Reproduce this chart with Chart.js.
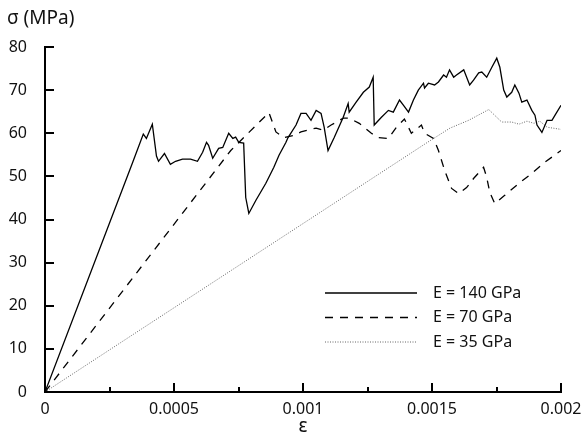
<!DOCTYPE html>
<html>
<head>
<meta charset="utf-8">
<script src="https://cdn.jsdelivr.net/npm/chart.js@4.4.1/dist/chart.umd.min.js"></script>
<style>
  body { margin: 0; background: #fff; }
  #wrap { width: 583px; height: 446px; position: relative; }
</style>
</head>
<body>
<div id="wrap"><canvas id="stressChart"></canvas></div>
<script>
// strain / stress readings for each modulus
const strain140 = [0, 0.00034, 0.000381, 0.000393, 0.000416, 0.000432, 0.00044, 0.000463, 0.000486, 0.000506,
  0.000533, 0.000564, 0.000591, 0.000611, 0.000626, 0.000634, 0.00065, 0.000673, 0.000689, 0.000712,
  0.000728, 0.000739, 0.000751, 0.00077, 0.000778, 0.00079, 0.000817, 0.000856, 0.000887, 0.000907,
  0.000934, 0.000942, 0.000973, 0.000992, 0.001012, 0.001031, 0.001051, 0.00107, 0.001082, 0.001097,
  0.001121, 0.001156, 0.001175, 0.001179, 0.001206, 0.001234, 0.001257, 0.001272, 0.001276, 0.001304,
  0.001331, 0.00135, 0.001374, 0.001389, 0.001409, 0.001428, 0.001447, 0.001467, 0.001471, 0.001486,
  0.00151, 0.001525, 0.001545, 0.001556, 0.001568, 0.001584, 0.001595, 0.001623, 0.001646, 0.001661,
  0.001681, 0.001693, 0.001712, 0.001732, 0.001751, 0.001763, 0.001778, 0.00179, 0.001809, 0.001821,
  0.001837, 0.001848, 0.001868, 0.001887, 0.001899, 0.001907, 0.001926, 0.001946, 0.001965, 0.001977, 0.002];
const stress140 = [0, 53.3, 59.8, 58.8, 62.1, 54.7, 53.5, 55.3, 52.8, 53.5,
  54.0, 54.0, 53.5, 55.6, 57.9, 57.2, 54.2, 56.5, 56.7, 60.0,
  58.8, 59.1, 57.9, 57.7, 45.1, 41.4, 44.4, 48.4, 52.1, 54.9,
  57.9, 59.0, 61.9, 64.6, 64.6, 63.0, 65.3, 64.6, 61.4, 56.0,
  59.0, 63.7, 66.9, 64.9, 67.2, 69.5, 70.7, 73.0, 61.9, 63.7,
  65.3, 64.9, 67.7, 66.5, 64.9, 67.7, 70.0, 71.6, 70.5, 71.6,
  71.2, 71.9, 73.5, 73.0, 74.7, 73.0, 73.5, 74.7, 71.2, 72.3,
  74.0, 74.2, 73.0, 75.3, 77.4, 75.3, 70.0, 68.4, 69.5, 71.2,
  69.3, 67.2, 67.7, 65.3, 64.2, 61.9, 60.2, 63.0, 63.0, 64.2, 66.5];

const strain70 = [0, 0.00072, 0.000868, 0.000883, 0.000895, 0.000926, 0.000965, 0.000992, 0.001051, 0.001078,
  0.001109, 0.001156, 0.001179, 0.001218, 0.001265, 0.001292, 0.001331, 0.001362, 0.001393, 0.00142,
  0.001459, 0.001471, 0.001506, 0.001525, 0.001549, 0.001576, 0.001603, 0.001634, 0.001661, 0.0017,
  0.001712, 0.001724, 0.001743, 0.001782, 0.001837, 0.001887, 0.001938, 0.002];
const stress70 = [0, 56.0, 64.8, 62.3, 60.3, 59.0, 59.5, 60.3, 61.2, 60.7,
  61.9, 63.5, 63.5, 62.3, 60.0, 59.0, 58.8, 61.4, 63.3, 60.0,
  61.9, 60.0, 58.8, 56.0, 51.4, 47.2, 46.0, 47.4, 49.5, 52.1,
  49.8, 46.3, 43.7, 45.6, 48.4, 50.7, 53.3, 56.0];

const strain35 = [0, 0.00148, 0.00157, 0.001642, 0.00172, 0.00177, 0.001809, 0.001837, 0.001868, 0.001895,
  0.001918, 0.001946, 0.002];
const stress35 = [0, 57.8, 61.2, 63.0, 65.5, 62.6, 62.6, 62.1, 62.8, 62.3,
  62.8, 61.4, 60.9];

const seriesLabels = ['E = 140 GPa', 'E = 70 GPa', 'E = 35 GPa'];
const xTicks = [0, 0.0005, 0.001, 0.0015, 0.002];
const yTicks = [0, 10, 20, 30, 40, 50, 60, 70, 80];

const FONT = '"Noto Sans", "Open Sans", sans-serif';

function toPoints(xs, ys) {
  return xs.map((x, i) => ({ x: x, y: ys[i] }));
}

// inward ticks, axis titles and the in-plot legend
const decorations = {
  id: 'decorations',
  afterDraw(chart) {
    const ctx = chart.ctx;
    const xs = chart.scales.x;
    const ys = chart.scales.y;
    const area = chart.chartArea;
    ctx.save();
    ctx.strokeStyle = '#000';
    ctx.lineWidth = 2;
    ctx.beginPath();
    xTicks.forEach((v, i) => {
      const px = Math.round(xs.getPixelForValue(v));
      ctx.moveTo(px, area.bottom);
      ctx.lineTo(px, area.bottom - 9);
      if (i < xTicks.length - 1) {
        const mx = Math.round(xs.getPixelForValue((v + xTicks[i + 1]) / 2));
        ctx.moveTo(mx, area.bottom);
        ctx.lineTo(mx, area.bottom - 5);
      }
    });
    yTicks.forEach(v => {
      const py = Math.round(ys.getPixelForValue(v));
      ctx.moveTo(area.left, py);
      ctx.lineTo(area.left + 9, py);
    });
    ctx.stroke();

    ctx.fillStyle = '#111';
    ctx.font = '19px ' + FONT;
    ctx.textBaseline = 'middle';
    ctx.textAlign = 'left';
    ctx.fillText('σ (MPa)', 7, 19);
    ctx.textAlign = 'center';
    ctx.fillText('ε', (area.left + area.right) / 2, 427);

    // legend
    ctx.font = '16px ' + FONT;
    ctx.textAlign = 'left';
    chart.data.datasets.forEach((ds, i) => {
      const y = 293 + i * 24.5;
      ctx.beginPath();
      ctx.strokeStyle = ds.borderColor;
      ctx.lineWidth = ds.borderWidth;
      ctx.setLineDash(ds.borderDash || []);
      ctx.moveTo(325, y);
      ctx.lineTo(417, y);
      ctx.stroke();
      ctx.setLineDash([]);
      ctx.fillStyle = '#111';
      ctx.fillText(ds.label, 433, y);
    });
    ctx.restore();
  }
};

const ctx = document.getElementById('stressChart').getContext('2d');

const data = {
  datasets: [{
    label: seriesLabels[0],
    data: toPoints(strain140, stress140),
    borderColor: '#000',
    borderWidth: 1.3,
    borderDash: [],
    pointRadius: 0,
    showLine: true
  }, {
    label: seriesLabels[1],
    data: toPoints(strain70, stress70),
    borderColor: '#000',
    borderWidth: 1.3,
    borderDash: [8, 7],
    pointRadius: 0,
    showLine: true
  }, {
    label: seriesLabels[2],
    data: toPoints(strain35, stress35),
    borderColor: '#666',
    borderWidth: 1,
    borderDash: [1, 1.5],
    pointRadius: 0,
    showLine: true
  }]
};

const config = {
  type: 'scatter',
  data: data,
  options: {
    responsive: true,
    maintainAspectRatio: false,
    animation: false,
    layout: { padding: { top: 47, right: 22, left: 0, bottom: 0 } },
    plugins: {
      legend: { display: false },
      tooltip: { enabled: false }
    },
    scales: {
      x: {
        type: 'linear',
        min: 0,
        max: 0.002,
        afterFit(scale) { scale.height = 54; },
        afterBuildTicks(scale) { scale.ticks = xTicks.map(v => ({ value: v })); },
        grid: { display: false },
        border: { display: true, color: '#000', width: 2 },
        ticks: {
          color: '#111',
          font: { family: FONT, size: 16 },
          padding: 0,
          maxRotation: 0,
          callback: v => String(parseFloat(Number(v).toFixed(4)))
        }
      },
      y: {
        min: 0,
        max: 80,
        afterFit(scale) { scale.width = 45; },
        afterBuildTicks(scale) { scale.ticks = yTicks.map(v => ({ value: v })); },
        grid: { display: false },
        border: { display: true, color: '#000', width: 2 },
        ticks: {
          color: '#111',
          font: { family: FONT, size: 16 },
          padding: 10
        }
      }
    }
  },
  plugins: [decorations]
};

let stressChart = new Chart(ctx, config);
</script>
</body>
</html>
